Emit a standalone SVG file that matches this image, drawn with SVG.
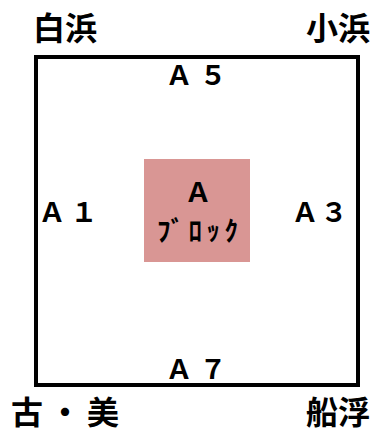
<svg xmlns="http://www.w3.org/2000/svg" width="373" height="432" viewBox="0 0 373 432">
<style>
.place{font-family:"Noto Sans CJK JP","Noto Sans",sans-serif;font-weight:bold;font-size:32px;fill:#000}
.area{font-family:"Noto Sans CJK JP",sans-serif;font-size:27px;font-weight:bold;fill:#000;text-anchor:middle}
.blk{font-family:"Noto Sans CJK JP",sans-serif;font-weight:bold;fill:#000}
</style>
<rect width="373" height="432" fill="#fff"/>
<g id="frame"><rect x="36" y="57" width="322" height="328" fill="none" stroke="#000" stroke-width="4"/></g>
<g id="connectors"></g>
<g id="block"><rect x="144" y="159" width="106" height="103" fill="#d99694"/>
<text class="area" x="198" y="202" font-size="25">Ａ</text>
<text class="blk" x="157" y="241" font-size="27" textLength="81" lengthAdjust="spacing">ﾌﾞﾛｯｸ</text></g>
<g id="shirahama"><text class="place" x="33" y="40">白浜</text></g>
<g id="kohama"><text class="place" x="370" y="40" text-anchor="end">小浜</text></g>
<g id="komi"><text class="place" x="11" y="424" textLength="108" lengthAdjust="spacing">古・美</text></g>
<g id="funauki"><text class="place" x="370" y="424" text-anchor="end">船浮</text></g>
<g id="a5"><text class="area" x="179 213" y="85">Ａ５</text></g>
<g id="a1"><text class="area" x="52 84" y="222">Ａ１</text></g>
<g id="a3"><text class="area" x="305 334" y="222">Ａ３</text></g>
<g id="a7"><text class="area" x="179 213" y="379">Ａ７</text></g>
</svg>
